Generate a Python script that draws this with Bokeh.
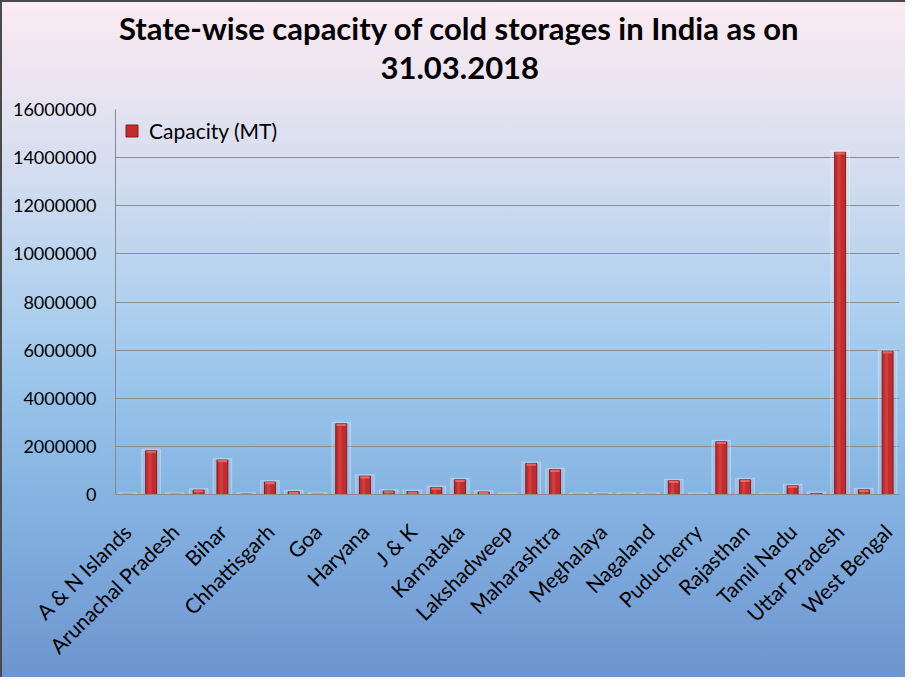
import math
from bokeh.plotting import figure
from bokeh.models import (Range1d, FixedTicker, Title, Legend, LegendItem,
                          ColumnDataSource, NumeralTickFormatter)
from bokeh.embed import file_html
from bokeh.resources import INLINE

# ---- data ----
states = ["A & N Islands", "Andhra Pradesh", "Arunachal Pradesh", "Assam", "Bihar",
          "Chandigarh", "Chhattisgarh", "Delhi", "Goa", "Gujarat", "Haryana",
          "Himachal Pradesh", "J & K", "Jharkhand", "Karnataka", "Kerala",
          "Lakshadweep", "Madhya Pradesh", "Maharashtra", "Manipur", "Meghalaya",
          "Mizoram", "Nagaland", "Odisha", "Puducherry", "Punjab", "Rajasthan",
          "Sikkim", "Tamil Nadu", "Tripura", "Uttar Pradesh", "Uttarakhand",
          "West Bengal"]
capacity = [5000, 1820000, 6000, 180000, 1430000,
            12000, 515000, 115000, 8000, 2940000, 760000,
            140000, 125000, 290000, 612000, 100000,
            0, 1290000, 1030000, 5000, 8500,
            4000, 6000, 570000, 1000, 2190000, 610000,
            2000, 360000, 45000, 14220000, 195000,
            5950000]
y_ticks = [0, 2000000, 4000000, 6000000, 8000000, 10000000, 12000000, 14000000, 16000000]
title_line1 = "State-wise capacity of cold storages in India as on"
title_line2 = "31.03.2018"
series_name = "Capacity (MT)"

FONT = "Lato"
W, H = 905, 677
BL, BR, BT, BB = 115, 6, 109, 183

x = list(range(1, len(states) + 1))
src = ColumnDataSource(dict(
    x=x,
    cap=capacity,
    back_top=[c + 60000 for c in capacity],
    cap_bottom=[max(0, c - 90000) for c in capacity],
    hx=[i - 0.05 for i in x],
))

p = figure(width=W, height=H, output_backend="svg", toolbar_location=None,
           x_range=Range1d(0.5, len(states) + 0.5), y_range=Range1d(y_ticks[0], y_ticks[-1]),
           min_border_left=BL, min_border_right=BR, min_border_top=BT, min_border_bottom=BB,
           title=None)

p.background_fill_alpha = 0
p.border_fill_alpha = 0
p.outline_line_color = None
p.styles = {
    "background": "linear-gradient(to bottom, #fbeaf1 0%, #e8e4f1 14%, #cbdaef 30%, "
                  "#afd0ee 45%, #98c3ea 58%, #87b5e2 72%, #7aa5da 86%, #6d95ce 100%)",
    "box-shadow": "inset 2px 2px 0 #4a4a4a",
}

# back "frames" behind each bar
p.vbar(x="x", top="back_top", bottom=0, width=0.78, source=src,
       fill_color="white", fill_alpha=0.12, line_color="white", line_alpha=0.35, line_width=1)
# main bars
bars = p.vbar(x="x", top="cap", bottom=0, width=0.46, source=src,
              fill_color="#c42b2b", line_color="#8a1a1a", line_width=1)
# highlight stripe
p.vbar(x="hx", top="cap", bottom=0, width=0.14, source=src,
       fill_color="#e46060", fill_alpha=0.35, line_color=None)
# lighter top cap
p.vbar(x="x", top="cap", bottom="cap_bottom", width=0.40, source=src,
       fill_color="#e86a6a", fill_alpha=0.9, line_color=None)

# axes
p.yaxis.ticker = FixedTicker(ticks=y_ticks)
p.yaxis.formatter = NumeralTickFormatter(format="0")
p.yaxis.major_tick_line_color = None
p.yaxis.minor_tick_line_color = None
p.yaxis.axis_line_color = "#8a8a8a"
p.yaxis.major_label_text_font = FONT
p.yaxis.major_label_text_font_size = "18px"
p.yaxis.major_label_text_color = "black"
p.yaxis.major_label_standoff = 13

p.xaxis.ticker = FixedTicker(ticks=x[::2])
p.xaxis.major_label_overrides = {i: states[i - 1] for i in x[::2]}
p.xaxis.major_label_orientation = math.pi / 4
p.xaxis.major_tick_line_color = None
p.xaxis.minor_tick_line_color = None
p.xaxis.axis_line_color = "#8a8a8a"
p.xaxis.major_label_text_font = FONT
p.xaxis.major_label_text_font_size = "21px"
p.xaxis.major_label_text_color = "black"
p.xaxis.major_label_standoff = 27

p.xgrid.grid_line_color = None
p.ygrid.ticker = FixedTicker(ticks=y_ticks)
p.ygrid.grid_line_color = "#8c8c8c"
p.ygrid.grid_line_width = 1

# titles: first added sits closest to the frame (a blank one adds a gap)
spacer = Title(text=" ", text_font_size="10px", standoff=13)
t2 = Title(text=title_line2, align="left", offset=265, text_font=FONT,
           text_font_size="31px", text_font_style="bold", text_color="black", standoff=9)
t1 = Title(text=title_line1, align="left", offset=3.5, text_font=FONT,
           text_font_size="31px", text_font_style="bold", text_color="black", standoff=7)
p.add_layout(spacer, "above")
p.add_layout(t2, "above")
p.add_layout(t1, "above")

legend = Legend(items=[LegendItem(label=series_name, renderers=[bars])],
                location="top_left", background_fill_alpha=0, border_line_color=None,
                label_text_font=FONT, label_text_font_size="21px", label_text_color="black",
                glyph_width=15, glyph_height=15, margin=9, padding=8, label_standoff=10)
p.add_layout(legend)

open("out.html", "w").write(file_html(p, INLINE))
